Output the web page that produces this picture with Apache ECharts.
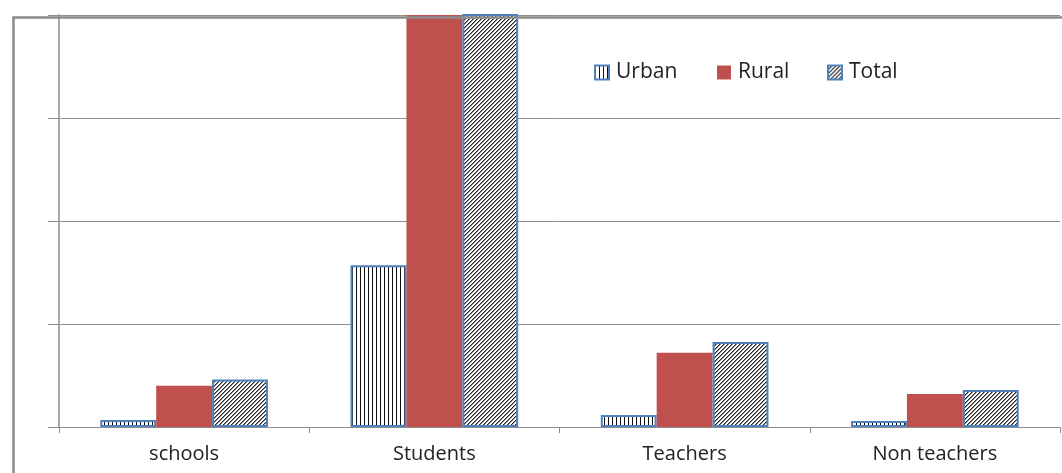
<!DOCTYPE html>
<html>
<head>
<meta charset="utf-8">
<script src="https://cdn.jsdelivr.net/npm/echarts@6/dist/echarts.min.js"></script>
<style>
html,body{margin:0;padding:0;background:#fff;}
#chart{width:1062px;height:473px;}
</style>
</head>
<body>
<div id="chart"></div>
<script>
const categories = ['schools', 'Students', 'Teachers', 'Non teachers'];
const urban = [6.8, 157, 11.7, 5.8];
const rural = [40, 520, 72, 32];
const total = [46, 677, 82.5, 36];
const seriesNames = ['Urban', 'Rural', 'Total'];

function vertPattern() {
  const c = document.createElement('canvas');
  c.width = 4; c.height = 4;
  const g = c.getContext('2d');
  g.fillStyle = '#ffffff'; g.fillRect(0, 0, 4, 4);
  g.fillStyle = '#111111'; g.fillRect(0, 0, 1, 4);
  return c;
}
function diagPattern() {
  const c = document.createElement('canvas');
  c.width = 4; c.height = 4;
  const g = c.getContext('2d');
  g.fillStyle = '#ffffff'; g.fillRect(0, 0, 4, 4);
  for (let i = 0; i < 4; i++) {
    g.fillStyle = '#222222'; g.fillRect(3 - i, i, 1, 1);
    g.fillStyle = '#8a8a8a'; g.fillRect((4 - i) % 4, i, 1, 1);
  }
  return c;
}

const chart = echarts.init(document.getElementById('chart'));
const FONT = '"Open Sans", sans-serif';
const legendLefts = [594, 717, 827];
chart.setOption({
  animation: false,
  backgroundColor: '#ffffff',
  textStyle: { fontFamily: FONT },
  graphic: [{
    type: 'rect', left: 11, top: 15, z: 100, silent: true,
    shape: { width: 1200, height: 600 },
    style: { fill: null, stroke: '#8c8c8c', lineWidth: 2.5 }
  }],
  legend: seriesNames.map((n, i) => ({
    data: [n],
    left: legendLefts[i], top: 62,
    itemWidth: 14, itemHeight: 14, itemGap: 0,
    icon: 'rect',
    padding: 0,
    textStyle: { fontSize: 21, color: '#222', fontFamily: FONT, padding: [0, 0, 0, 2] }
  })),
  grid: { left: 59, right: 2, top: 15, bottom: 46, containLabel: false },
  xAxis: {
    type: 'category',
    data: categories,
    axisLine: { lineStyle: { color: '#8c8c8c', width: 1 } },
    axisTick: { show: true, length: 6, lineStyle: { color: '#8c8c8c' } },
    axisLabel: { fontSize: 20, color: '#222', margin: 17, fontFamily: FONT }
  },
  yAxis: {
    type: 'value',
    min: 0, max: 400, interval: 100,
    axisLine: { show: true, lineStyle: { color: '#a8a8a8', width: 2 } },
    axisTick: { show: true, length: 11, lineStyle: { color: '#8c8c8c' } },
    axisLabel: { show: false },
    splitLine: { lineStyle: { color: '#8c8c8c', width: 1 } }
  },
  series: [
    {
      name: 'Urban', type: 'bar', data: urban, clip: true,
      barGap: '0%', barCategoryGap: '33%',
      itemStyle: { color: { image: vertPattern(), repeat: 'repeat' }, borderColor: '#4f81bd', borderWidth: 2 }
    },
    {
      name: 'Rural', type: 'bar', data: rural, clip: true,
      barGap: '0%', barCategoryGap: '33%',
      itemStyle: { color: '#c0504d' }
    },
    {
      name: 'Total', type: 'bar', data: total, clip: true,
      barGap: '0%', barCategoryGap: '33%',
      itemStyle: { color: { image: diagPattern(), repeat: 'repeat' }, borderColor: '#4f81bd', borderWidth: 2 }
    }
  ]
});
</script>
</body>
</html>
